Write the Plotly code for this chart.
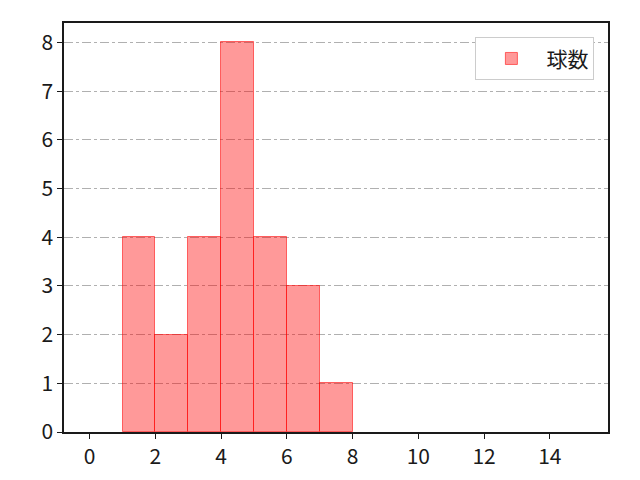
import plotly.graph_objects as go

# histogram bins (left edges) and counts
bin_left = [1, 2, 3, 4, 5, 6, 7]
counts = [4, 2, 4, 8, 4, 3, 1]
bin_width = 1
x_ticks = [0, 2, 4, 6, 8, 10, 12, 14]
y_ticks = [0, 1, 2, 3, 4, 5, 6, 7, 8]

centers = [b + bin_width / 2 for b in bin_left]

fig = go.Figure()
fig.add_trace(go.Bar(
    x=centers,
    y=counts,
    width=[bin_width] * len(centers),
    name='球数',
    marker=dict(color='rgba(255,0,0,0.4)', line=dict(color='rgba(255,0,0,0.55)', width=1)),
    showlegend=True,
))

axis_common = dict(
    showline=True, linecolor='#1a1a1a', linewidth=1.5, mirror=True,
    ticks='outside', ticklen=5, tickwidth=1.2, tickcolor='#1a1a1a',
    zeroline=False,
)

# page body has an 8px margin, so the plot area is shifted back by that amount
fig.update_layout(
    width=640, height=480,
    margin=dict(l=56, r=40, t=15, b=56),
    plot_bgcolor='white', paper_bgcolor='white',
    font=dict(family='Noto Sans CJK JP', size=21, color='#1a1a1a'),
    bargap=0,
    xaxis=dict(range=[-0.78, 15.77], tickvals=x_ticks, showgrid=False, **axis_common),
    yaxis=dict(range=[0, 8.4], tickvals=y_ticks, showgrid=True,
               gridcolor='#b0b0b0', griddash='dashdot', gridwidth=1, **axis_common),
    legend=dict(x=0.975, y=0.965, xanchor='right', yanchor='top',
                bordercolor='#cccccc', borderwidth=1, bgcolor='white',
                itemwidth=60, font=dict(size=21)),
)

fig.write_html("out.html")
